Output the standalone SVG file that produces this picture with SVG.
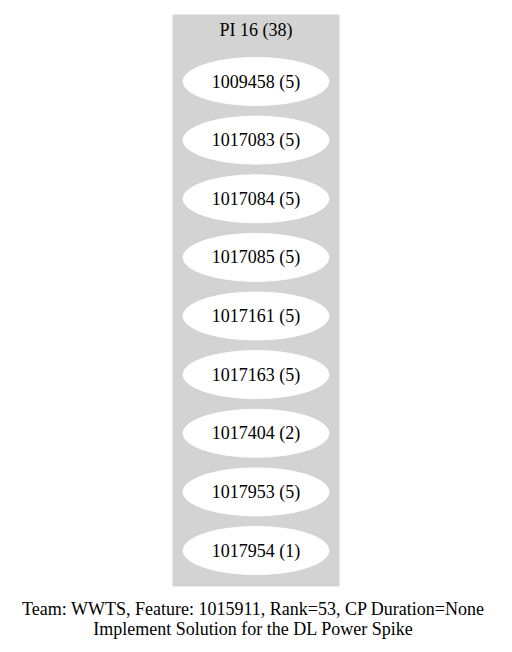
<svg xmlns="http://www.w3.org/2000/svg" width="512" height="652" viewBox="0 0 512 652">
<style>
text{font-family:"Liberation Serif","Times New Roman",serif;font-size:18px;fill:#000;text-anchor:middle}
.node ellipse{fill:#fff;stroke:#fff}
</style>
<rect width="512" height="652" fill="#fff"/>
<g id="cluster_PI16">
<rect x="173" y="15" width="166" height="571" fill="#d3d3d3" stroke="#d3d3d3"/>
<text x="256" y="36">PI 16 (38)</text>
</g>
<g id="connectors"></g>
<g id="n1009458" class="node"><ellipse cx="256" cy="81.5" rx="73" ry="24"/><text x="256" y="87.5">1009458 (5)</text></g>
<g id="n1017083" class="node"><ellipse cx="256" cy="140.1" rx="73" ry="24"/><text x="256" y="146.1">1017083 (5)</text></g>
<g id="n1017084" class="node"><ellipse cx="256" cy="198.8" rx="73" ry="24"/><text x="256" y="204.8">1017084 (5)</text></g>
<g id="n1017085" class="node"><ellipse cx="256" cy="257.4" rx="73" ry="24"/><text x="256" y="263.4">1017085 (5)</text></g>
<g id="n1017161" class="node"><ellipse cx="256" cy="316" rx="73" ry="24"/><text x="256" y="322">1017161 (5)</text></g>
<g id="n1017163" class="node"><ellipse cx="256" cy="374.6" rx="73" ry="24"/><text x="256" y="380.6">1017163 (5)</text></g>
<g id="n1017404" class="node"><ellipse cx="256" cy="433.3" rx="73" ry="24"/><text x="256" y="439.3">1017404 (2)</text></g>
<g id="n1017953" class="node"><ellipse cx="256" cy="491.9" rx="73" ry="24"/><text x="256" y="497.9">1017953 (5)</text></g>
<g id="n1017954" class="node"><ellipse cx="256" cy="550.5" rx="73" ry="24"/><text x="256" y="556.5">1017954 (1)</text></g>
<g id="label">
<text x="253" y="615">Team: WWTS, Feature: 1015911, Rank=53, CP Duration=None</text>
<text x="253" y="635">Implement Solution for the DL Power Spike</text>
</g>
</svg>
